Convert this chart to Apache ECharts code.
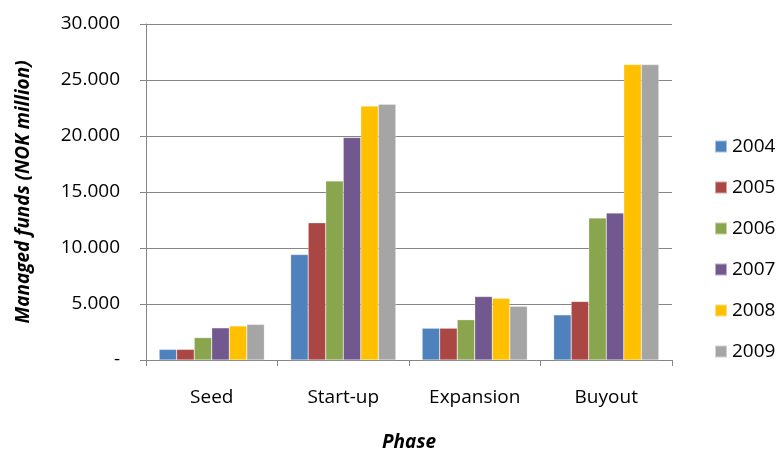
<!DOCTYPE html>
<html>
<head>
<meta charset="utf-8">
<script src="https://cdn.jsdelivr.net/npm/echarts@6/dist/echarts.min.js"></script>
<style>html,body{margin:0;padding:0;background:#fff;}#c{width:777px;height:457px;}</style>
</head>
<body>
<div id="c"></div>
<script>
const categories = ['Seed', 'Start-up', 'Expansion', 'Buyout'];
const years = ['2004', '2005', '2006', '2007', '2008', '2009'];
const v2004 = [950, 9420, 2840, 4030];
const v2005 = [950, 12250, 2840, 5230];
const v2006 = [2000, 15990, 3600, 12680];
const v2007 = [2870, 19870, 5670, 13120];
const v2008 = [3040, 22680, 5520, 26380];
const v2009 = [3180, 22830, 4800, 26380];
const yTicks = [0, 5000, 10000, 15000, 20000, 25000, 30000];
const colors = ['#4F81BD', '#AA4643', '#89A54E', '#71588F', '#FFC000', '#A5A5A5'];
const values = [v2004, v2005, v2006, v2007, v2008, v2009];

const font = '"Open Sans", "Liberation Sans", sans-serif';
function fmt(v) {
  if (v === 0) return '-';
  return String(v).replace(/\B(?=(\d{3})+(?!\d))/g, '.');
}
const chart = echarts.init(document.getElementById('c'), null, {renderer: 'canvas'});
chart.setOption({
  animation: false,
  color: colors,
  grid: {left: 146, right: 105, top: 24, bottom: 90, containLabel: false},
  legend: {
    orient: 'vertical', left: 709, top: 132,
    itemWidth: 12, itemHeight: 12, itemGap: 22,
    icon: 'rect',
    textStyle: {fontFamily: font, fontSize: 19, lineHeight: 19, color: '#000'},
    data: years
  },
  xAxis: {
    type: 'category', data: categories,
    name: 'Phase', nameLocation: 'middle', nameGap: 73,
    nameTextStyle: {fontFamily: font, fontSize: 19, fontWeight: 'bold', fontStyle: 'italic', color: '#000'},
    axisLine: {lineStyle: {color: '#868686', width: 1}},
    axisTick: {show: true, length: 6, lineStyle: {color: '#868686'}},
    axisLabel: {fontFamily: font, fontSize: 19, color: '#000', margin: 28},
    splitLine: {show: false}
  },
  yAxis: {
    type: 'value', min: 0, max: 30000, interval: 5000,
    name: 'Managed funds (NOK million)', nameLocation: 'middle', nameGap: 113,
    nameTextStyle: {fontFamily: font, fontSize: 19, fontWeight: 'bold', fontStyle: 'italic', color: '#000'},
    axisLine: {show: true, lineStyle: {color: '#868686', width: 1}},
    axisTick: {show: true, length: 6, lineStyle: {color: '#868686'}},
    axisLabel: {fontFamily: font, fontSize: 19, color: '#000', margin: 26,
      formatter: function (v) { return yTicks.indexOf(v) >= 0 ? fmt(v) : ''; }},
    splitLine: {show: true, lineStyle: {color: '#868686', width: 1}}
  },
  series: years.map((y, i) => ({
    name: y, type: 'bar', data: values[i],
    barGap: '0%', barCategoryGap: '20%',
    itemStyle: {color: colors[i], borderColor: 'rgba(255,255,255,0.5)', borderWidth: 0.5}
  }))
});
</script>
</body>
</html>
